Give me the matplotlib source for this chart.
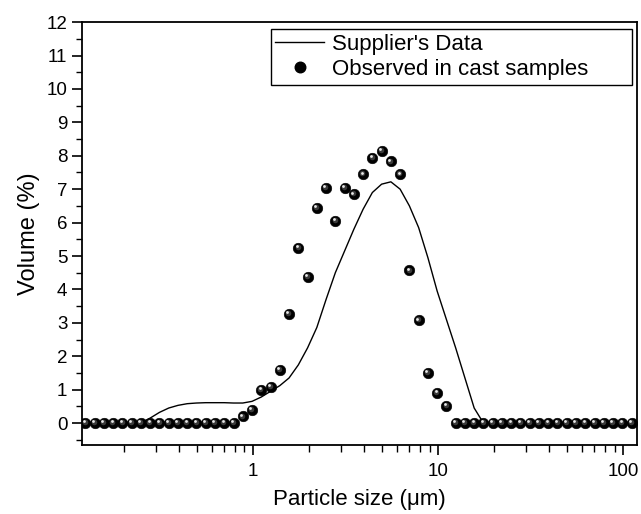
import matplotlib
matplotlib.use("Agg")
import matplotlib.pyplot as plt
from matplotlib.ticker import FixedLocator, LogLocator, NullFormatter, MultipleLocator
from matplotlib.transforms import offset_copy
from matplotlib.lines import Line2D

plt.rcParams['font.family'] = ['Liberation Sans', 'DejaVu Sans']

# particle size bins (um)
sizes = [0.1245, 0.1397, 0.1567, 0.1759, 0.1973, 0.2214, 0.2484, 0.2787, 0.3127, 0.3509,
         0.3937, 0.4417, 0.4956, 0.5561, 0.6240, 0.7001, 0.7855, 0.8814, 0.9890, 1.1097,
         1.2451, 1.3970, 1.5675, 1.7587, 1.9733, 2.2141, 2.4843, 2.7874, 3.1275, 3.5092,
         3.9374, 4.4178, 4.9569, 5.5618, 6.2404, 7.0019, 7.8562, 8.8149, 9.8905, 11.097,
         12.451, 13.970, 15.675, 17.587, 19.733, 22.141, 24.843, 27.874, 31.275, 35.092,
         39.374, 44.178, 49.569, 55.618, 62.404, 70.019, 78.562, 88.149, 98.905, 110.97]

supplier = [0, 0, 0, 0, 0, 0, 0.01, 0.15, 0.32, 0.45,
            0.53, 0.58, 0.60, 0.61, 0.61, 0.61, 0.60, 0.60, 0.65, 0.78,
            0.95, 1.12, 1.35, 1.74, 2.25, 2.86, 3.70, 4.50, 5.15, 5.80,
            6.40, 6.90, 7.15, 7.22, 7.00, 6.50, 5.85, 4.95, 3.95, 3.10,
            2.25, 1.35, 0.45, 0, 0, 0, 0, 0, 0, 0,
            0, 0, 0, 0, 0, 0, 0, 0, 0, 0]

observed = [0, 0, 0, 0, 0, 0, 0, 0, 0, 0,
            0, 0, 0, 0, 0, 0, 0, 0.2, 0.4, 1.0,
            1.08, 1.6, 3.27, 5.25, 4.37, 6.45, 7.05, 6.05, 7.05, 6.85,
            7.45, 7.94, 8.14, 7.83, 7.45, 4.57, 3.08, 1.51, 0.91, 0.52,
            0, 0, 0, 0, 0, 0, 0, 0, 0, 0,
            0, 0, 0, 0, 0, 0, 0, 0, 0, 0]

fig = plt.figure(figsize=(6.41, 5.14), dpi=100)
ax = fig.add_axes([0.128, 0.134, 0.866, 0.823])

ax.plot(sizes, supplier, color='black', lw=1.0, zorder=2)
ax.plot(sizes, observed, linestyle='none', marker='o', ms=7.6, mfc='black',
        mec='black', mew=0.4, zorder=3)
hl1 = offset_copy(ax.transData, fig=fig, x=-0.8, y=0.8, units='dots')
ax.plot(sizes, observed, linestyle='none', marker='o', ms=4.0, mfc='#3a3a3a',
        mec='none', zorder=4, transform=hl1)
hl2 = offset_copy(ax.transData, fig=fig, x=-1.6, y=1.6, units='dots')
ax.plot(sizes, observed, linestyle='none', marker='o', ms=2.0, mfc='#e8e8e8',
        mec='none', zorder=5, transform=hl2)

ax.set_xscale('log')
ax.set_xlim(0.1194, 119)
ax.set_ylim(-0.66, 12)

ax.xaxis.set_major_locator(FixedLocator([1, 10, 100]))
ax.set_xticklabels(['1', '10', '100'])
ax.xaxis.set_minor_locator(LogLocator(base=10, subs=[2, 3, 4, 5, 6, 7, 8, 9]))
ax.xaxis.set_minor_formatter(NullFormatter())
ax.yaxis.set_major_locator(MultipleLocator(1))
ax.yaxis.set_minor_locator(MultipleLocator(0.5))

ax.tick_params(which='major', direction='out', length=7, width=1.2, labelsize=13.5,
               top=False, right=False)
ax.tick_params(which='minor', direction='out', length=5, width=1.0, top=False, right=False)
ax.tick_params(axis='y', which='minor', length=4)
ax.tick_params(axis='x', which='major', pad=6)
for s in ax.spines.values():
    s.set_linewidth(1.3)

ax.set_xlabel('Particle size (\u03bcm)', fontsize=16, labelpad=6)
ax.set_ylabel('Volume (%)', fontsize=17, labelpad=5)

h_line = Line2D([], [], color='black', lw=1.0)
h_pt = Line2D([], [], linestyle='none', marker='o', ms=7.6, mfc='black', mec='black')
leg = ax.legend([h_line, h_pt], ["Supplier's Data", 'Observed in cast samples'],
                loc='upper left', bbox_to_anchor=(0.340, 0.0, 0.650, 0.983), mode='expand',
                borderaxespad=0, fancybox=False, framealpha=1, edgecolor='black',
                fontsize=16, handlelength=2.2, handletextpad=0.35, borderpad=0.2,
                labelspacing=0.2)
leg.get_frame().set_linewidth(1.0)

fig.savefig('out.png', dpi=100)
